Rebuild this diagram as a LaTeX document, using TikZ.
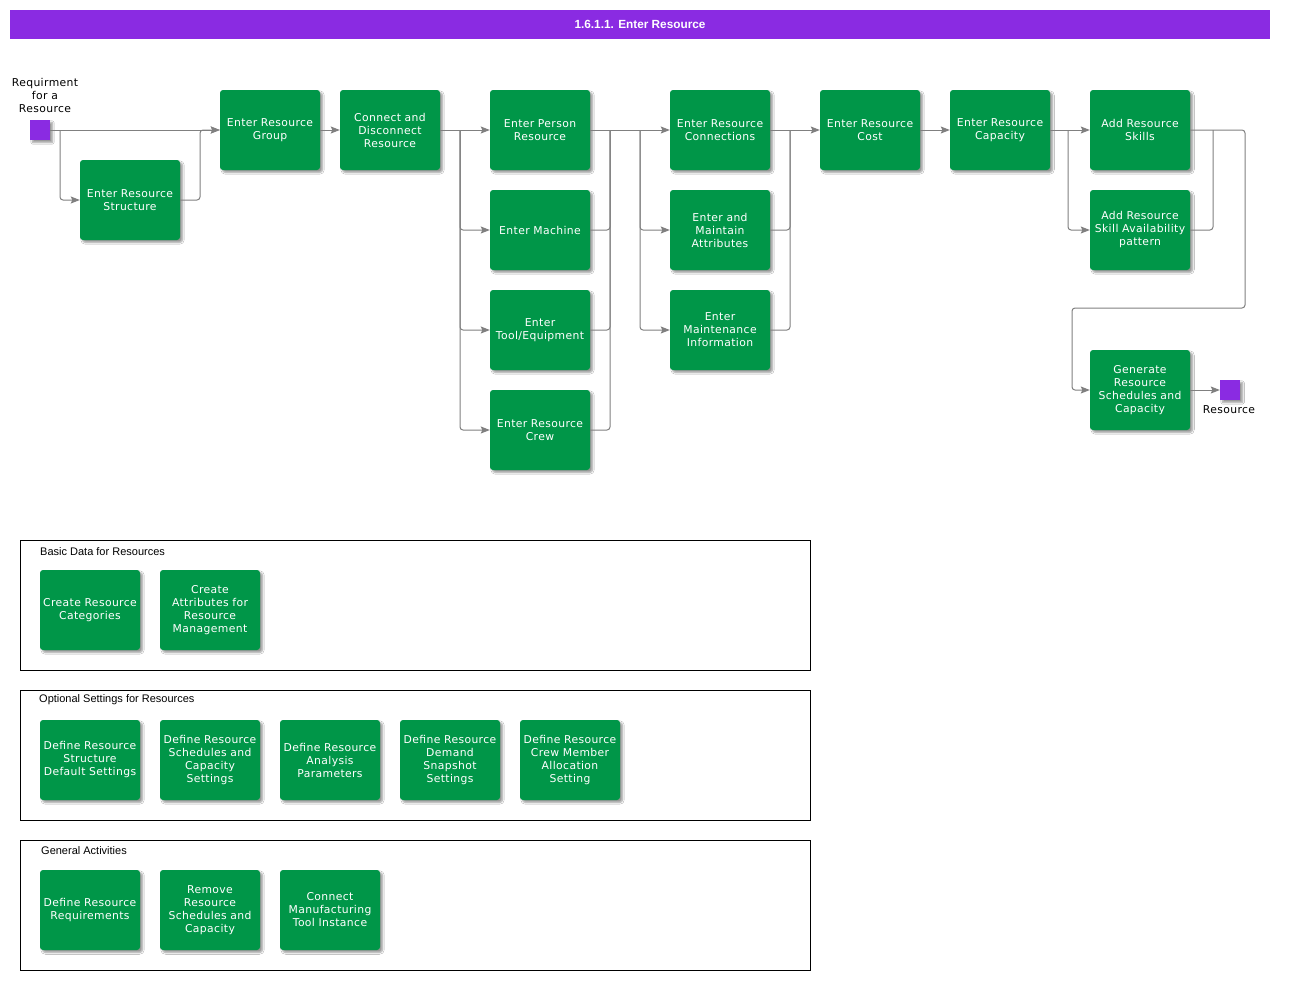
\documentclass[tikz,border=0pt]{standalone}
\usepackage{fontspec}
\usetikzlibrary{arrows.meta,shadows.blur,calc}
\newfontfamily\boxfont[LetterSpace=3.5]{DejaVu Sans}
\newfontfamily\arialfont{Liberation Sans}
\definecolor{boxgreen}{RGB}{0,150,72}
\definecolor{violetbar}{RGB}{138,43,226}
\definecolor{linegray}{RGB}{128,128,128}
\tikzset{
  task/.style={draw=none, fill=boxgreen, rounded corners=3pt, minimum width=100pt, minimum height=80pt,
    inner sep=0pt, text width=100pt, align=center, text=white,
    font=\boxfont\fontsize{10.8}{13}\selectfont,
    blur shadow={shadow xshift=2.5pt, shadow yshift=-2.5pt, shadow blur steps=6, shadow opacity=40}},
  term/.style={fill=violetbar, minimum width=20pt, minimum height=20pt, inner sep=0pt,
    blur shadow={shadow xshift=2.5pt, shadow yshift=-2.5pt, shadow blur steps=6, shadow opacity=40}},
  lbl/.style={align=center, inner sep=0pt, font=\boxfont\fontsize{10.8}{13}\selectfont, text=black},
  conn/.style={draw=linegray, line width=1pt, rounded corners=3pt},
  arr/.style={conn, -{Stealth[length=9pt,width=7pt,inset=1.5pt]}},
  grp/.style={draw=black, line width=1pt},
  grptitle/.style={anchor=west, inner sep=0pt, font=\arialfont\fontsize{11}{13}\selectfont}
}
\begin{document}
\begin{tikzpicture}[x=1pt,y=-1pt]
\useasboundingbox (0,0) rectangle (1295,980);
\fill[white] (0,0) rectangle (1295,980);
% title bar
\node[fill=violetbar, minimum width=1260pt, minimum height=29pt, inner sep=0pt, text=white,
  font=\arialfont\bfseries\fontsize{11.8}{14}\selectfont] (title) at (640,24.5) {1.6.1.1. Enter Resource};

% start / end
\node[term] (start) at (40,130) {};
\node[lbl] (startlbl) at (45,95) {Requirment\\for a\\Resource};
\node[term] (endn) at (1230,390) {};
\node[lbl] (endlbl) at (1229,410) {Resource};

% main tasks
\node[task] (ers) at (130,200) {Enter Resource\\Structure};
\node[task] (erg) at (270,130) {Enter Resource\\Group};
\node[task] (cdr) at (390,130) {Connect and\\Disconnect\\Resource};
\node[task] (epr) at (540,130) {Enter Person\\Resource};
\node[task] (em) at (540,230) {Enter Machine};
\node[task] (ete) at (540,330) {Enter\\Tool/Equipment};
\node[task] (erc) at (540,430) {Enter Resource\\Crew};
\node[task] (econ) at (720,130) {Enter Resource\\Connections};
\node[task] (ema) at (720,230) {Enter and\\Maintain\\Attributes};
\node[task] (emi) at (720,330) {Enter\\Maintenance\\Information};
\node[task] (ecost) at (870,130) {Enter Resource\\Cost};
\node[task] (ecap) at (1000,130) {Enter Resource\\Capacity};
\node[task] (ars) at (1140,130) {Add Resource\\Skills};
\node[task] (arsa) at (1140,230) {Add Resource\\Skill Availability\\pattern};
\node[task] (gen) at (1140,390) {Generate\\Resource\\Schedules and\\Capacity};

% junction coordinates
\coordinate (j1) at (60,130);
\coordinate (j2) at (200,130);
\coordinate (s1) at (460,130);
\coordinate (m1) at (610,130);
\coordinate (s2) at (640,130);
\coordinate (m2) at (790,130);
\coordinate (s3) at (1068,130);
\coordinate (m3) at (1213,130);
\coordinate (r1) at (1245,130);
\coordinate (r2) at (1245,308);
\coordinate (r3) at (1072,308);

% connectors
\draw[arr] (start.east) -- (erg.west);
\draw[arr] (j1) |- (ers.west);
\draw[arr] (ers.east) -| (j2) -- (erg.west);
\draw[arr] (erg.east) -- (cdr.west);
\draw[arr] (cdr.east) -- (epr.west);
\draw[arr] (s1) |- (em.west);
\draw[arr] (s1) |- (ete.west);
\draw[arr] (s1) |- (erc.west);
\draw[arr] (epr.east) -- (econ.west);
\draw[conn] (em.east) -| (m1);
\draw[conn] (ete.east) -| (m1);
\draw[conn] (erc.east) -| (m1);
\draw[arr] (s2) |- (ema.west);
\draw[arr] (s2) |- (emi.west);
\draw[arr] (econ.east) -- (ecost.west);
\draw[conn] (ema.east) -| (m2);
\draw[conn] (emi.east) -| (m2);
\draw[arr] (ecost.east) -- (ecap.west);
\draw[arr] (ecap.east) -- (ars.west);
\draw[arr] (s3) |- (arsa.west);
\draw[arr] (ars.east) -- (r1) -- (r2) -- (r3) |- (gen.west);
\draw[conn] (arsa.east) -| (m3);
\draw[arr] (gen.east) -- (endn.west);

% group 1
\draw[grp] (20,540) rectangle (810,670);
\node[grptitle] (g1t) at (40,552) {Basic Data for Resources};
\node[task] (b1) at (90,610) {Create Resource\\Categories};
\node[task] (b2) at (210,610) {Create\\Attributes for\\Resource\\Management};

% group 2
\draw[grp] (20,690) rectangle (810,820);
\node[grptitle] (g2t) at (39,700) {Optional Settings for Resources};
\node[task] (o1) at (90,760) {Define Resource\\Structure\\Default Settings};
\node[task] (o2) at (210,760) {Define Resource\\Schedules and\\Capacity\\Settings};
\node[task] (o3) at (330,760) {Define Resource\\Analysis\\Parameters};
\node[task] (o4) at (450,760) {Define Resource\\Demand\\Snapshot\\Settings};
\node[task] (o5) at (570,760) {Define Resource\\Crew Member\\Allocation\\Setting};

% group 3
\draw[grp] (20,840) rectangle (810,970);
\node[grptitle] (g3t) at (41,851) {General Activities};
\node[task] (a1) at (90,910) {Define Resource\\Requirements};
\node[task] (a2) at (210,910) {Remove\\Resource\\Schedules and\\Capacity};
\node[task] (a3) at (330,910) {Connect\\Manufacturing\\Tool Instance};
\end{tikzpicture}
\end{document}
